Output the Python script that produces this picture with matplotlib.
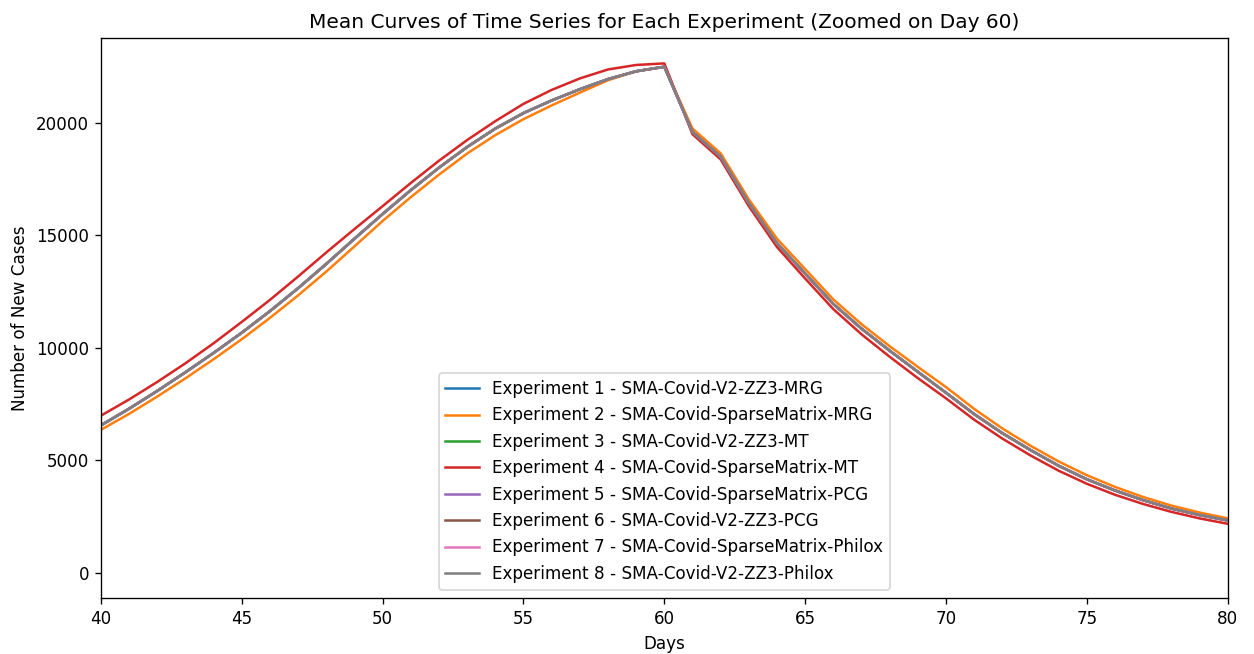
import numpy as np
import matplotlib.pyplot as plt

# Data (days 40-80, mean daily new cases)
days = np.arange(40, 81)

experiment_names = [
    'SMA-Covid-V2-ZZ3-MRG',
    'SMA-Covid-SparseMatrix-MRG',
    'SMA-Covid-V2-ZZ3-MT',
    'SMA-Covid-SparseMatrix-MT',
    'SMA-Covid-SparseMatrix-PCG',
    'SMA-Covid-V2-ZZ3-PCG',
    'SMA-Covid-SparseMatrix-Philox',
    'SMA-Covid-V2-ZZ3-Philox',
]

# most experiments overlap almost perfectly
common_curve = [
    6550, 7290, 8080, 8910, 9770, 10670, 11630, 12650, 13730, 14850,
    15950, 17010, 18010, 18930, 19750, 20440, 21000, 21500, 21950, 22300,
    22500, 19600, 18500, 16440, 14650, 13300, 11950, 10850, 9870, 8930,
    8000, 7050, 6200, 5450, 4750, 4150, 3650, 3220, 2850, 2560, 2320,
]

sparse_mrg = [
    6350, 7060, 7830, 8640, 9490, 10380, 11330, 12330, 13390, 14510,
    15640, 16700, 17700, 18640, 19460, 20170, 20780, 21350, 21900, 22300,
    22500, 19750, 18650, 16600, 14850, 13500, 12150, 11050, 10070, 9150,
    8250, 7280, 6410, 5640, 4940, 4330, 3810, 3360, 2980, 2670, 2410,
]

sparse_mt = [
    6980, 7700, 8480, 9310, 10200, 11150, 12130, 13170, 14240, 15280,
    16300, 17330, 18320, 19240, 20080, 20850, 21470, 21980, 22380, 22580,
    22650, 19500, 18380, 16300, 14480, 13080, 11720, 10600, 9600, 8650,
    7750, 6800, 5960, 5210, 4530, 3950, 3460, 3050, 2700, 2410, 2170,
]

curves = [common_curve, sparse_mrg, common_curve, sparse_mt,
          common_curve, common_curve, common_curve, common_curve]

fig, ax = plt.subplots(figsize=(1254 / 121, 654 / 121), dpi=121)
fig.subplots_adjust(left=0.0805, right=0.979, top=0.942, bottom=0.0856)

for i, (name, vals) in enumerate(zip(experiment_names, curves)):
    ax.plot(days, vals, label=f'Experiment {i + 1} - {name}')

ax.set_xlim(40, 80)
ax.set_ylim(-1133, 23783)
ax.set_xlabel('Days')
ax.set_ylabel('Number of New Cases')
ax.set_title('Mean Curves of Time Series for Each Experiment (Zoomed on Day 60)')
ax.legend(loc='lower center')

fig.savefig('out.png')
